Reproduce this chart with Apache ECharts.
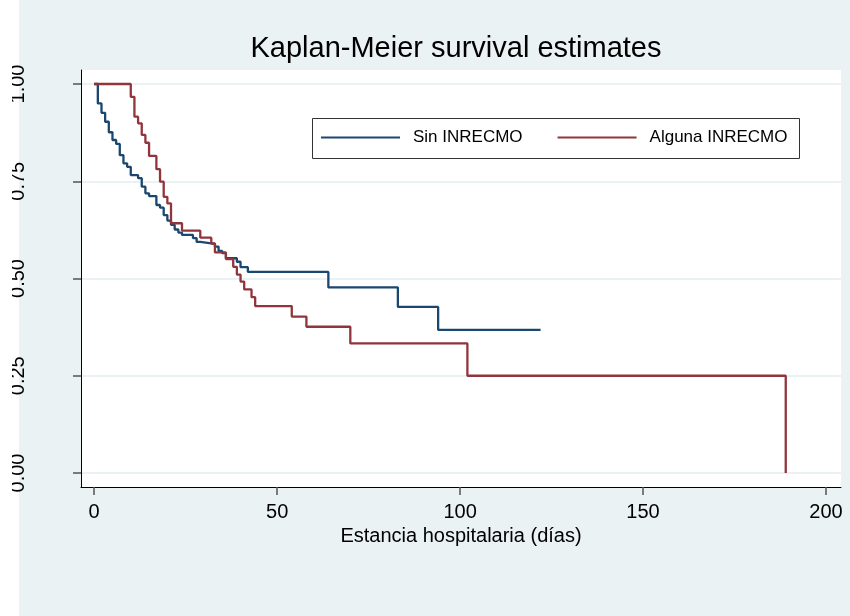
<!DOCTYPE html>
<html>
<head>
<meta charset="utf-8">
<title>Kaplan-Meier survival estimates</title>
<script src="https://cdn.jsdelivr.net/npm/echarts@6/dist/echarts.min.js"></script>
<style>
  html, body { margin: 0; padding: 0; background: #eaf2f3; }
  #chart { width: 850px; height: 616px; }
</style>
</head>
<body>
<div id="chart"></div>
<script>
const chartTitle = 'Kaplan-Meier survival estimates';
const xName = 'Estancia hospitalaria (días)';
const groups = ['Sin INRECMO', 'Alguna INRECMO'];
const xTicks = [0, 50, 100, 150, 200];
const yTicks = [0, 0.25, 0.5, 0.75, 1];

// survival after each event time
const sinDays = [0, 1, 2, 3, 4, 5, 6, 7, 8, 9, 10, 12, 13, 14, 15, 17, 18, 19, 20, 21, 22, 23, 24,
  27, 28, 29, 33, 34, 35, 36, 39, 40, 42, 64, 83, 94, 122];
const sinSurv = [1, 0.950, 0.926, 0.903, 0.876, 0.856, 0.846, 0.817, 0.796, 0.787, 0.766, 0.758, 0.736,
  0.719, 0.712, 0.689, 0.682, 0.663, 0.649, 0.638, 0.626, 0.618, 0.612, 0.604, 0.594, 0.589, 0.582,
  0.571, 0.565, 0.552, 0.543, 0.529, 0.517, 0.477, 0.427, 0.368, 0.368];

const algunaDays = [0, 10, 11, 12, 13, 14, 15, 17, 18, 19, 20, 21, 24, 29, 32, 33, 36, 38, 39, 40,
  41, 43, 44, 54, 58, 70, 102, 189];
const algunaSurv = [1, 0.967, 0.916, 0.899, 0.869, 0.849, 0.815, 0.781, 0.749, 0.710, 0.693, 0.642,
  0.623, 0.605, 0.590, 0.567, 0.550, 0.530, 0.510, 0.492, 0.472, 0.452, 0.429, 0.402, 0.376, 0.333,
  0.25, 0];

const font = '"Liberation Sans", Arial, sans-serif';
const colors = ['#1a476f', '#90353b'];

const pairs = (xs, ys) => xs.map((x, i) => [x, ys[i]]);

const chart = echarts.init(document.getElementById('chart'));

const option = {
  animation: false,
  backgroundColor: '#eaf2f3',
  textStyle: { fontFamily: font },
  title: {
    text: chartTitle,
    left: 456,
    top: 34,
    padding: 0,
    textAlign: 'center',
    textStyle: { fontSize: 29, fontWeight: 'normal', color: '#000', fontFamily: font },
  },
  legend: {
    data: groups,
    left: 321,
    top: 129,
    padding: 0,
    icon: 'rect',
    itemWidth: 79,
    itemHeight: 2,
    itemGap: 35,
    textStyle: { fontSize: 17, color: '#000', fontFamily: font, padding: [0, 0, 0, 8] },
    z: 10,
  },
  grid: {
    left: 81,
    right: 9,
    top: 70,
    bottom: 129,
    show: true,
    backgroundColor: '#fff',
    borderWidth: 0,
  },
  xAxis: {
    type: 'value',
    min: -3.6,
    max: 204.1,
    name: xName,
    nameLocation: 'middle',
    nameGap: 31,
    nameTextStyle: { fontSize: 20, color: '#000', fontFamily: font, verticalAlign: 'top' },
    axisLine: { show: true, onZero: false, lineStyle: { color: '#000', width: 1 } },
    axisTick: { show: true, length: 8, customValues: xTicks, lineStyle: { color: '#555', width: 1.5 } },
    axisLabel: { customValues: xTicks, margin: 15, fontSize: 20, color: '#000', fontFamily: font },
    splitLine: { show: false },
  },
  yAxis: {
    type: 'value',
    min: -0.036,
    max: 1.036,
    axisLine: { show: true, onZero: false, lineStyle: { color: '#000', width: 1 } },
    axisTick: { show: true, length: 8, customValues: yTicks, lineStyle: { color: '#555', width: 1.5 } },
    axisLabel: {
      customValues: yTicks,
      rotate: 90,
      margin: 53,
      fontSize: 20,
      color: '#000',
      fontFamily: font,
      formatter: (v) => v.toFixed(2),
    },
    splitLine: { show: true, lineStyle: { color: '#eaf2f3', width: 2 } },
  },
  graphic: [
    { type: 'rect', z: -1, shape: { x: 0, y: 0, width: 19, height: 616 }, style: { fill: '#fff' } },
    { type: 'rect', z: 50, shape: { x: 0, y: 0, width: 12, height: 616 }, style: { fill: '#fff' } },
    {
      type: 'rect',
      z: 5,
      shape: { x: 312.5, y: 118.5, width: 487, height: 40 },
      style: { fill: '#fff', stroke: '#333', lineWidth: 1 },
    },
  ],
  series: [
    {
      name: groups[0],
      type: 'line',
      step: 'end',
      showSymbol: false,
      data: pairs(sinDays, sinSurv),
      lineStyle: { color: colors[0], width: 2.3 },
      itemStyle: { color: colors[0] },
    },
    {
      name: groups[1],
      type: 'line',
      step: 'end',
      showSymbol: false,
      data: pairs(algunaDays, algunaSurv),
      lineStyle: { color: colors[1], width: 2.3 },
      itemStyle: { color: colors[1] },
    },
  ],
};

chart.setOption(option);
</script>
</body>
</html>
